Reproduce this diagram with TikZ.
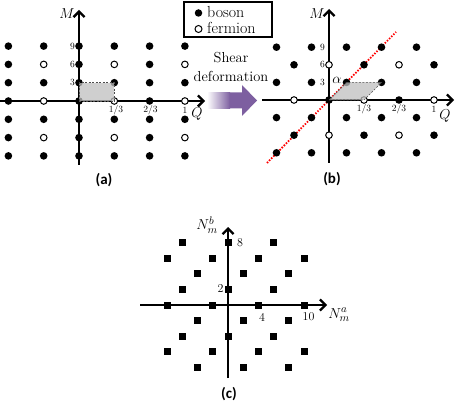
\documentclass[tikz,border=0pt]{standalone}
\usepackage{fontspec}
\newfontfamily\labfont{Carlito}
\usetikzlibrary{arrows.meta}
\definecolor{arrpurple}{RGB}{125,95,160}
\begin{document}
\begin{tikzpicture}[x=1pt,y=-1pt,
  axis/.style={line width=2.3pt, -{Straight Barb[length=5.5pt,width=11pt]}},
  boson/.style={circle, fill=black, inner sep=0pt, minimum size=7.6pt},
  fermion/.style={circle, draw=black, fill=white, line width=1pt, inner sep=0pt, minimum size=6.6pt},
  sq/.style={rectangle, fill=black, inner sep=0pt, minimum size=7pt},
  tick/.style={font=\fontsize{9.5}{10}\selectfont, inner sep=0pt},
  ctick/.style={font=\fontsize{12}{13}\selectfont, inner sep=0pt},
  cell/.style={fill=black!25, fill opacity=0.75, draw=black!70, line width=0.6pt, dash pattern=on 2pt off 1.5pt},
  axlab/.style={font=\fontsize{15}{17}\selectfont, inner sep=0pt},
  nlab/.style={font=\fontsize{15}{17}\selectfont, inner sep=0pt},
  panel/.style={font=\labfont\bfseries\fontsize{15}{17}\selectfont, inner sep=0pt},
  legtext/.style={font=\fontsize{16}{18}\selectfont, inner sep=0pt, anchor=base west},
  sheartext/.style={font=\fontsize{14.5}{17}\selectfont, inner sep=0pt, anchor=base}
]
\useasboundingbox (0,0) rectangle (463,414);

% ---------------- panel (a) ----------------
\coordinate (aQs) at (0,101);
\coordinate (aQe) at (205,101);
\coordinate (aMs) at (79,165);
\coordinate (aMe) at (79,10);
\draw[axis] (aQs) -- (aQe);
\draw[axis] (aMs) -- (aMe);
\foreach \j in {-3,...,3}{
  \foreach \i in {-2,...,3}{
    \pgfmathsetmacro\xx{79+35.3*\i}
    \pgfmathsetmacro\yy{101-18.3*\j}
    \pgfmathtruncatemacro\ferm{(mod(abs(\i),2)==1)&&(mod(abs(\j),2)==0)}
    \ifnum\ferm=1
      \node[fermion] (a\i p\j) at (\xx,\yy) {};
    \else
      \node[boson] (a\i p\j) at (\xx,\yy) {};
    \fi
  }
}
\draw[cell] (a0p0.center) rectangle (a1p1.center);
\node[tick, anchor=east] (a9) at (75,46.1) {9};
\node[tick, anchor=east] (a6) at (75,64.4) {6};
\node[tick, anchor=east] (a3) at (75,82.7) {3};
\node[tick] (aq1) at (116,110) {1/3};
\node[tick] (aq2) at (150.6,110) {2/3};
\node[tick] (aq3) at (185,110) {1};
\node[axlab] (aM) at (67,14) {$M$};
\node[axlab] (aQ) at (197,114) {$Q$};
\node[panel] (alab) at (104,180) {(a)};

% ---------------- legend ----------------
\draw[line width=1.3pt] (184,2) rectangle (272,37);
\node[boson, minimum size=7.5pt] (lb) at (198.5,13) {};
\node[fermion, minimum size=7pt] (lf) at (198.5,29) {};
\node[legtext] (lbt) at (207,17.5) {boson};
\node[legtext] (lft) at (207,33.5) {fermion};

% ---------------- shear arrow ----------------
\node[sheartext] (sh1) at (231,63) {Shear};
\node[sheartext] (sh2) at (231,82) {deformation};
\shade[left color=white, right color=arrpurple] (207,92.5) rectangle (230,108.5);
\fill[arrpurple] (229.5,92.5) -- (242,92.5) -- (242,85) -- (257,100.5) -- (242,116) -- (242,108.5) -- (229.5,108.5) -- cycle;

% ---------------- panel (b) ----------------
\coordinate (bQs) at (262,100);
\coordinate (bQe) at (454,100);
\coordinate (bMs) at (329,163);
\coordinate (bMe) at (329,9);
\coordinate (rs) at (267,163);
\coordinate (re) at (396,32);
\draw[axis] (bQs) -- (bQe);
\draw[axis] (bMs) -- (bMe);
\draw[red, line width=1.8pt, dash pattern=on 1.5pt off 1.5pt] (rs) -- (re);
\foreach \j in {-3,...,3}{
  \foreach \i in {-4,...,4}{
    \pgfmathsetmacro\xx{329+35*\i+17.5*\j}
    \pgfmathsetmacro\yy{100-17.6*\j}
    \pgfmathtruncatemacro\inr{(\xx>268)&&(\xx<440)}
    \pgfmathtruncatemacro\ferm{(mod(abs(\i),2)==1)&&(mod(abs(\j),2)==0)}
    \ifnum\inr=1
      \ifnum\ferm=1
        \node[fermion] (b\i p\j) at (\xx,\yy) {};
      \else
        \node[boson] (b\i p\j) at (\xx,\yy) {};
      \fi
    \fi
  }
}
\draw[cell] (b0p0.center) -- (b1p0.center) -- (b1p1.center) -- (b0p1.center) -- cycle;
\node[tick, anchor=east] (b9) at (325,47.2) {9};
\node[tick, anchor=east] (b6) at (325,64.8) {6};
\node[tick, anchor=east] (b3) at (325,82.4) {3};
\node[tick] (bq1) at (364,109) {1/3};
\node[tick] (bq2) at (399,109) {2/3};
\node[tick] (bq3) at (434,109) {1};
\node[axlab] (bM) at (317,14) {$M$};
\node[axlab] (bQ) at (445,116) {$Q$};
\node[axlab] (alpha) at (337,80.5) {$\alpha$};
\node[panel] (blab) at (332,179) {(b)};

% ---------------- panel (c) ----------------
\coordinate (cAs) at (140,305);
\coordinate (cAe) at (327,305);
\coordinate (cBs) at (228,378);
\coordinate (cBe) at (228,227);
\draw[axis] (cAs) -- (cAe);
\draw[axis] (cBs) -- (cBe);
\foreach \a/\b in {-6/8,0/8,6/8, -8/6,-2/6,4/6,10/6, -4/4,2/4,8/4, -6/2,0/2,6/2,
  -8/0,-2/0,4/0,10/0, -4/-2,2/-2,8/-2, -6/-4,0/-4,6/-4, -8/-6,-2/-6,4/-6,10/-6, -4/-8,2/-8,8/-8}{
  \node[sq] (c\a p\b) at ({228+7.6*\a},{305-7.8*\b}) {};
}
\node[ctick] (c8) at (240,243) {8};
\node[ctick] (c2) at (220.5,288.5) {2};
\node[ctick] (c4) at (262,317) {4};
\node[ctick] (c10) at (308.5,317) {10};
\node[nlab] (cNb) at (207,225) {$N_m^b$};
\node[nlab] (cNa) at (339,315) {$N_m^a$};
\node[panel] (clab) at (229,394) {(c)};
\end{tikzpicture}
\end{document}
